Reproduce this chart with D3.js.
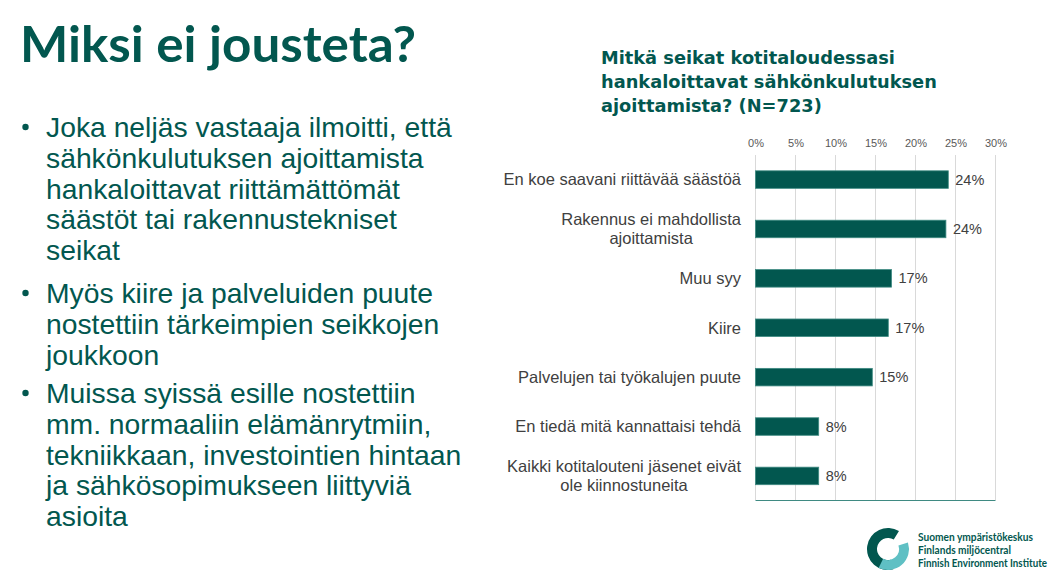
<!DOCTYPE html>
<html><head><meta charset="utf-8">
<script src="https://cdn.jsdelivr.net/npm/d3@7"></script>
<style>html,body{margin:0;padding:0;background:#fff;}svg{display:block;}</style>
</head><body>
<script>
const categories = [
  ["En koe saavani riittävää säästöä"],
  ["Rakennus ei mahdollista", "ajoittamista"],
  ["Muu syy"],
  ["Kiire"],
  ["Palvelujen tai työkalujen puute"],
  ["En tiedä mitä kannattaisi tehdä"],
  ["Kaikki kotitalouteni jäsenet eivät", "ole kiinnostuneita"]
];
const values = [24.1, 23.8, 17.0, 16.6, 14.6, 7.9, 7.9];
const valueLabels = ["24%", "24%", "17%", "17%", "15%", "8%", "8%"];
const ticks = [0, 5, 10, 15, 20, 25, 30];
const titleLines = ["Mitkä seikat kotitaloudessasi", "hankaloittavat sähkönkulutuksen", "ajoittamista? (N=723)"];
const bullets = [
  ["Joka neljäs vastaaja ilmoitti, että", "sähkönkulutuksen ajoittamista", "hankaloittavat riittämättömät", "säästöt tai rakennustekniset", "seikat"],
  ["Myös kiire ja palveluiden puute", "nostettiin tärkeimpien seikkojen", "joukkoon"],
  ["Muissa syissä esille nostettiin", "mm. normaaliin elämänrytmiin,", "tekniikkaan, investointien hintaan", "ja sähkösopimukseen liittyviä", "asioita"]
];
const logoLines = ["Suomen ympäristökeskus", "Finlands miljöcentral", "Finnish Environment Institute"];
const logoWidths = [115, 93, 129];

const W = 1057, H = 576;
const teal = "#02574f";
const svg = d3.select("body").append("svg").attr("width", W).attr("height", H);

// Slide title
svg.append("text").attr("x", 20).attr("y", 62)
  .attr("font-family", "Lato, 'Noto Sans', sans-serif").attr("font-weight", 700)
  .attr("font-size", 49).attr("fill", teal)
  .attr("textLength", 396).attr("lengthAdjust", "spacingAndGlyphs")
  .text("Miksi ei jousteta?");

// Bullets
const bulletStarts = [127, 293, 393];
const lh = 30.8;
bullets.forEach((lines, i) => {
  const y0 = bulletStarts[i];
  svg.append("circle").attr("cx", 25.5).attr("cy", y0).attr("r", 3.2).attr("fill", teal);
  lines.forEach((t, j) => {
    svg.append("text").attr("x", 46).attr("y", y0 + j * lh).attr("dy", "0.35em")
      .attr("font-family", "'Liberation Sans', Arial, sans-serif").attr("font-size", 28.3)
      .attr("fill", teal).text(t);
  });
});

// Chart title
titleLines.forEach((t, i) => {
  svg.append("text").attr("x", 601).attr("y", 58 + i * 24).attr("dy", "0.35em")
    .attr("font-family", "'DejaVu Sans', sans-serif").attr("font-weight", 700)
    .attr("font-size", 17.8).attr("fill", teal).text(t);
});

// Chart
const x = d3.scaleLinear().domain([0, 30]).range([755.5, 995.5]);
const y = d3.scaleBand().domain(d3.range(categories.length)).range([155, 500.5]).paddingInner(0.645).paddingOuter(0.32);

const g = svg.append("g");
// grid
g.selectAll("line.grid").data(ticks).join("line")
  .attr("x1", d => x(d)).attr("x2", d => x(d)).attr("y1", 155).attr("y2", 500)
  .attr("stroke", "#d9d9d9").attr("stroke-width", 1);

// top axis labels
const ax = d3.axisTop(x).tickValues(ticks).tickFormat(d => d + "%").tickSize(0).tickPadding(0);
const axG = g.append("g").attr("transform", "translate(0,147)").call(ax);
axG.select(".domain").remove();
axG.selectAll("text").attr("font-family", "'Liberation Sans', Arial, sans-serif").attr("font-size", 11).attr("fill", "#595959");

// bars
g.selectAll("rect.bar").data(values).join("rect")
  .attr("x", x(0)).attr("y", (d, i) => y(i)).attr("width", d => x(d) - x(0)).attr("height", y.bandwidth())
  .attr("fill", teal).attr("stroke", "#3f8a82").attr("stroke-width", 0.8);

// value labels
g.selectAll("text.val").data(values).join("text")
  .attr("x", d => x(d) + 7).attr("y", (d, i) => y(i) + y.bandwidth() / 2).attr("dy", "0.35em")
  .attr("font-family", "'Liberation Sans', Arial, sans-serif").attr("font-size", 14.5).attr("fill", "#404040")
  .text((d, i) => valueLabels[i]);

// category labels
categories.forEach((lines, i) => {
  const cy = y(i) + y.bandwidth() / 2;
  const n = lines.length;
  lines.forEach((t, j) => {
    svg.append("text").attr("x", 741).attr("y", cy + (j - (n - 1) / 2) * 19).attr("dy", "0.35em")
      .attr("text-anchor", n > 1 ? "middle" : "end")
      .attr("font-family", "'Liberation Sans', Arial, sans-serif").attr("font-size", 16.5).attr("fill", "#404040")
      .attr("class", "cat" + i + "_" + j)
      .text(t);
  });
});
categories.forEach((lines, i) => {
  if (lines.length > 1) {
    const nodes = lines.map((t, j) => svg.select(".cat" + i + "_" + j).node());
    const maxW = d3.max(nodes, n => n.getComputedTextLength());
    nodes.forEach(n => d3.select(n).attr("x", 741 - maxW / 2));
  }
});

// bottom axis line
g.append("line").attr("x1", x(0)).attr("x2", x(30)).attr("y1", 500.5).attr("y2", 500.5)
  .attr("stroke", "#3f8a82").attr("stroke-width", 1);

// Logo
const lg = svg.append("g").attr("transform", "translate(888,549)");
const arcDark = d3.arc().innerRadius(11).outerRadius(21).startAngle(-3.4).endAngle(0.55);
const arcLight = d3.arc().innerRadius(11).outerRadius(21).startAngle(1.25).endAngle(3.6);
lg.append("path").attr("d", arcDark()).attr("fill", teal);
lg.append("path").attr("d", arcLight()).attr("fill", "#5fc0c4");
logoLines.forEach((t, i) => {
  svg.append("text").attr("x", 918).attr("y", 537 + i * 13).attr("dy", "0.35em")
    .attr("font-family", "Lato, 'Noto Sans', sans-serif").attr("font-weight", 700)
    .attr("font-size", 10.5).attr("fill", teal)
    .attr("textLength", logoWidths[i]).attr("lengthAdjust", "spacingAndGlyphs").text(t);
});
</script>
</body></html>
